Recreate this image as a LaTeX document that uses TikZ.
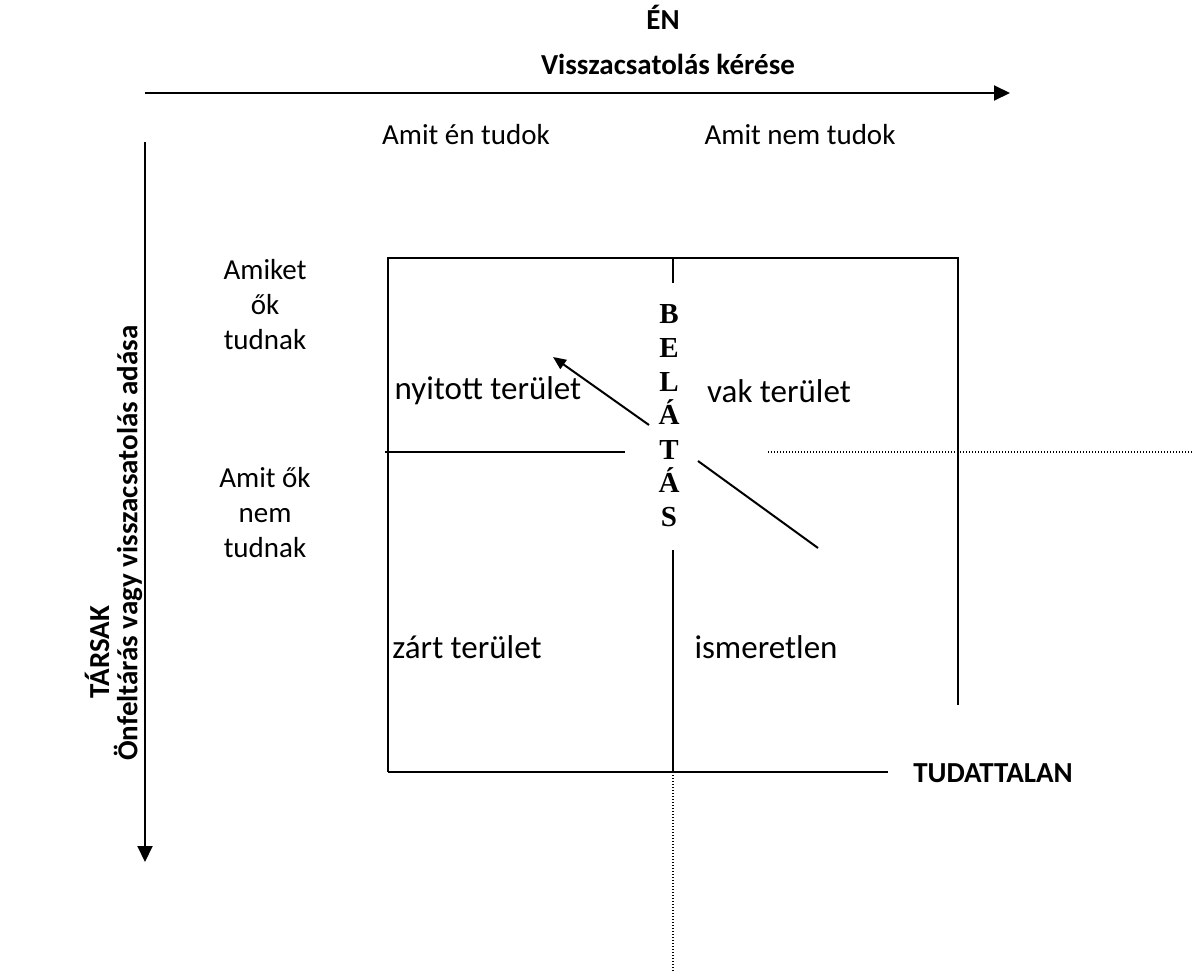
\documentclass[tikz,border=0pt]{standalone}
\usepackage{fontspec}
\setmainfont{Carlito}
\newfontfamily\lettersfont{Liberation Serif}
\usetikzlibrary{arrows.meta}
\begin{document}
\begin{tikzpicture}[x=1pt,y=-1pt,
  txt/.style={inner sep=0pt,font=\fontsize{29}{35}\selectfont,align=center},
  area/.style={inner sep=0pt,font=\fontsize{33}{40}\selectfont},
  btxt/.style={txt,font=\fontsize{29}{35}\selectfont\bfseries},
  letter/.style={inner sep=0pt,anchor=base,font=\lettersfont\fontsize{29}{34}\selectfont\bfseries},
  solid line/.style={line width=2pt},
  dot line/.style={line width=1.2pt,dash pattern=on 1.2pt off 1.8pt},
  axis/.style={solid line,-{Triangle[length=16pt,width=15pt]}},
  insight/.style={solid line,-{Triangle[length=13pt,width=11pt]}}]
\useasboundingbox (0,0) rectangle (1192,977);

% axes
\coordinate (xa) at (145,93);
\coordinate (xb) at (1010,93);
\coordinate (ya) at (145,142);
\coordinate (yb) at (145,862);
\draw[axis] (xa) -- (xb);
\draw[axis] (ya) -- (yb);

% axis titles
\node[btxt] (en) at (663,17) {ÉN};
\node[btxt] (feedback) at (668,64) {Visszacsatolás kérése};
\node[btxt,rotate=90] (tarsak) at (97,652) {TÁRSAK};
\node[btxt,rotate=90] (disclose) at (128,543) {Önfeltárás vagy visszacsatolás adása};

% column and row headings
\node[txt] (known) at (466,135) {Amit én tudok};
\node[txt] (unknown) at (800,135) {Amit nem tudok};
\node[txt] (othersknow) at (265,305) {Amiket\\ők\\tudnak};
\node[txt] (othersnot) at (265,513) {Amit ők\\nem\\tudnak};

% the window frame
\coordinate (bl) at (388,772);
\coordinate (tl) at (388,258);
\coordinate (tr) at (958,258);
\coordinate (rr) at (958,705);
\coordinate (br) at (888,772);
\draw[solid line] (bl) -- (tl) -- (tr) -- (rr);
\draw[solid line] (bl) -- (br);
\node[btxt] (tudattalan) at (993,773) {TUDATTALAN};

% inner dividers
\coordinate (mt) at (673,258);
\coordinate (mt2) at (673,283);
\coordinate (mb1) at (673,550);
\coordinate (mb2) at (673,772);
\coordinate (mb3) at (673,972);
\draw[solid line] (mt) -- (mt2);
\draw[solid line] (mb1) -- (mb2);
\draw[dot line] (mb2) -- (mb3);
\coordinate (hl1) at (385,452);
\coordinate (hl2) at (625,452);
\coordinate (hr1) at (768,452);
\coordinate (hr2) at (1192,452);
\draw[solid line] (hl1) -- (hl2);
\draw[dot line] (hr1) -- (hr2);

% quadrant labels
\node[area] (open) at (488,391) {nyitott terület};
\node[area] (blind) at (779,391) {vak terület};
\node[area] (hidden) at (467,647) {zárt terület};
\node[area] (unk) at (766,647) {ismeretlen};

% insight, written downwards
\node[letter] (b1) at (669,323) {B};
\node[letter] (b2) at (669,357) {E};
\node[letter] (b3) at (669,391) {L};
\node[letter] (b4) at (669,424) {Á};
\node[letter] (b5) at (669,459) {T};
\node[letter] (b6) at (669,492) {Á};
\node[letter] (b7) at (669,526) {S};

\coordinate (ia) at (649,425);
\coordinate (ib) at (553,357);
\coordinate (ic) at (698,461);
\coordinate (id) at (818,548);
\draw[insight] (ia) -- (ib);
\draw[solid line] (ic) -- (id);
\end{tikzpicture}
\end{document}
